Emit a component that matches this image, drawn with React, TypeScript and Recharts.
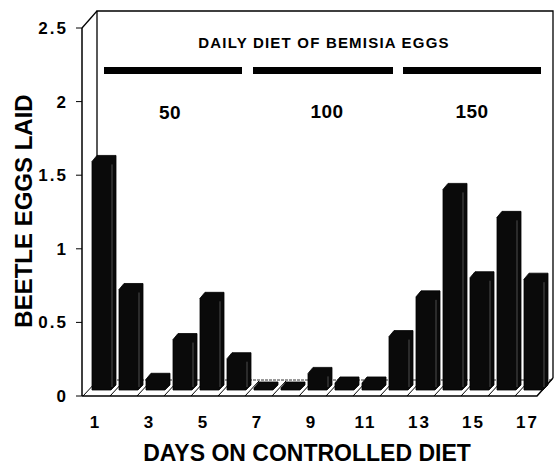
import React from "react";
import { BarChart, Bar, XAxis, YAxis } from "recharts";

const days = ["1", "2", "3", "4", "5", "6", "7", "8", "9", "10", "11", "12", "13", "14", "15", "16", "17"];
const eggsLaid = [1.58, 0.71, 0.1, 0.37, 0.65, 0.24, 0.02, 0.02, 0.14, 0.075, 0.075, 0.39, 0.66, 1.39, 0.79, 1.2, 0.78];
const yTicks = [0, 0.5, 1, 1.5, 2, 2.5];
const dietLevels = ["50", "100", "150"];

const FONT = "'Liberation Sans', Arial, Helvetica, sans-serif";

// chart geometry (front plane)
const W = 554;
const H = 467;
const PLOT_LEFT = 82;
const PLOT_RIGHT = 541;
const PLOT_TOP = 28;
const PLOT_BOTTOM = 396;
const DX = 15; // depth shift of the back wall
const DY = 16;

const data = days.map((day, i) => ({ day, eggs: eggsLaid[i] }));

// 3d-looking bar: front face + top + right side, set back a bit on the floor
function Bar3D(props: any) {
  const { x, y, width, height } = props;
  const d = 5;
  const base = y + height;
  const x0 = x + 8;
  const w = width - d;
  const bottom = base - 6;
  const top = Math.min(y - 3, bottom - 3);
  const path = `M${x0},${bottom} L${x0},${top + 1} L${x0 + d},${top - d} L${x0 + w + d},${top - d} L${x0 + w + d},${bottom - d} L${x0 + w},${bottom} Z`;
  return (
    <g>
      <path d={path} fill="#0a0a0a" stroke="#000" strokeWidth={0.8} />
      {bottom - top > 12 && (
        <line x1={x0 + w + 1} y1={top + 4} x2={x0 + w + 1} y2={bottom - 3} stroke="#fff" strokeOpacity={0.35} strokeWidth={0.8} />
      )}
    </g>
  );
}

function Frame() {
  const band = (PLOT_RIGHT - PLOT_LEFT) / days.length;
  const dividers = [];
  for (let k = 0; k <= days.length; k++) {
    const bx = PLOT_LEFT + band * k;
    if (bx > PLOT_RIGHT - 4) break;
    dividers.push(<line key={k} x1={bx + 1} y1={PLOT_BOTTOM} x2={bx + DX} y2={PLOT_BOTTOM - DY + 1} stroke="#000" strokeWidth={1} />);
  }
  return (
    <svg width={W} height={H} style={{ position: "absolute", left: 0, top: 0 }}>
      {/* back wall */}
      <path
        d={`M${PLOT_LEFT + DX},${PLOT_BOTTOM - DY} L${PLOT_LEFT + DX},${PLOT_TOP - DY - 1} L${W - 1},${PLOT_TOP - DY - 1} L${W - 1},${PLOT_BOTTOM - DY - 2}`}
        fill="none"
        stroke="#000"
        strokeWidth={1.3}
      />
      <line x1={PLOT_LEFT} y1={PLOT_TOP} x2={PLOT_LEFT + DX} y2={PLOT_TOP - DY - 1} stroke="#000" strokeWidth={1.3} />
      {/* floor */}
      <line x1={PLOT_LEFT + DX} y1={PLOT_BOTTOM - DY} x2={W - 1} y2={PLOT_BOTTOM - DY} stroke="#000" strokeWidth={0.8} strokeDasharray="3 1" />
      <path
        d={`M${PLOT_LEFT},${PLOT_BOTTOM} L${PLOT_RIGHT - 4},${PLOT_BOTTOM} L${W - 1},${PLOT_BOTTOM - DY - 2}`}
        fill="none"
        stroke="#000"
        strokeWidth={1.5}
      />
      {dividers}
      {/* diet annotation */}
      <text x={324} y={48} textAnchor="middle" fontFamily={FONT} fontWeight="bold" fontSize={15} letterSpacing={1.2} fill="#000">
        DAILY DIET OF BEMISIA EGGS
      </text>
      <rect x={104} y={67} width={138} height={7} fill="#000" />
      <rect x={253} y={67} width={140} height={7} fill="#000" />
      <rect x={403} y={67} width={138} height={7} fill="#000" />
      <text x={170} y={119} textAnchor="middle" fontFamily={FONT} fontWeight="bold" fontSize={19} letterSpacing={0.5} fill="#000">{dietLevels[0]}</text>
      <text x={327} y={118} textAnchor="middle" fontFamily={FONT} fontWeight="bold" fontSize={19} letterSpacing={0.5} fill="#000">{dietLevels[1]}</text>
      <text x={472} y={118} textAnchor="middle" fontFamily={FONT} fontWeight="bold" fontSize={19} letterSpacing={0.5} fill="#000">{dietLevels[2]}</text>
      {/* axis titles */}
      <text
        transform="translate(23,211) rotate(-90)"
        textAnchor="middle"
        dominantBaseline="central"
        fontFamily={FONT}
        fontWeight="bold"
        fontSize={24}
        fill="#000"
      >
        BEETLE EGGS LAID
      </text>
      <text x={307} y={461} textAnchor="middle" fontFamily={FONT} fontWeight="bold" fontSize={23} fill="#000">
        DAYS ON CONTROLLED DIET
      </text>
    </svg>
  );
}

export default function App() {
  return (
    <div style={{ position: "absolute", left: 0, top: 0, width: W, height: H, background: "#fff" }}>
      <Frame />
      <div style={{ position: "absolute", left: 0, top: 0 }}>
        <BarChart
          width={W}
          height={H}
          data={data}
          margin={{ top: PLOT_TOP, right: W - PLOT_RIGHT, left: 0, bottom: 0 }}
          barCategoryGap={0}
        >
          <XAxis
            dataKey="day"
            interval={1}
            height={H - PLOT_BOTTOM}
            axisLine={false}
            tickLine={false}
            tickSize={6}
            tickMargin={14}
            tick={{ fill: "#000", fontSize: 17, fontWeight: "bold", fontFamily: FONT, letterSpacing: 2 }}
          />
          <YAxis
            width={PLOT_LEFT}
            domain={[0, 2.5]}
            ticks={yTicks}
            axisLine={{ stroke: "#000", strokeWidth: 1.5 }}
            tickLine={{ stroke: "#000" }}
            tickSize={6}
            tickMargin={8}
            tick={{ fill: "#000", fontSize: 17, fontWeight: "bold", fontFamily: FONT, letterSpacing: 2 }}
          />
          <Bar dataKey="eggs" barSize={24} fill="#000" shape={Bar3D} isAnimationActive={false} />
        </BarChart>
      </div>
    </div>
  );
}
